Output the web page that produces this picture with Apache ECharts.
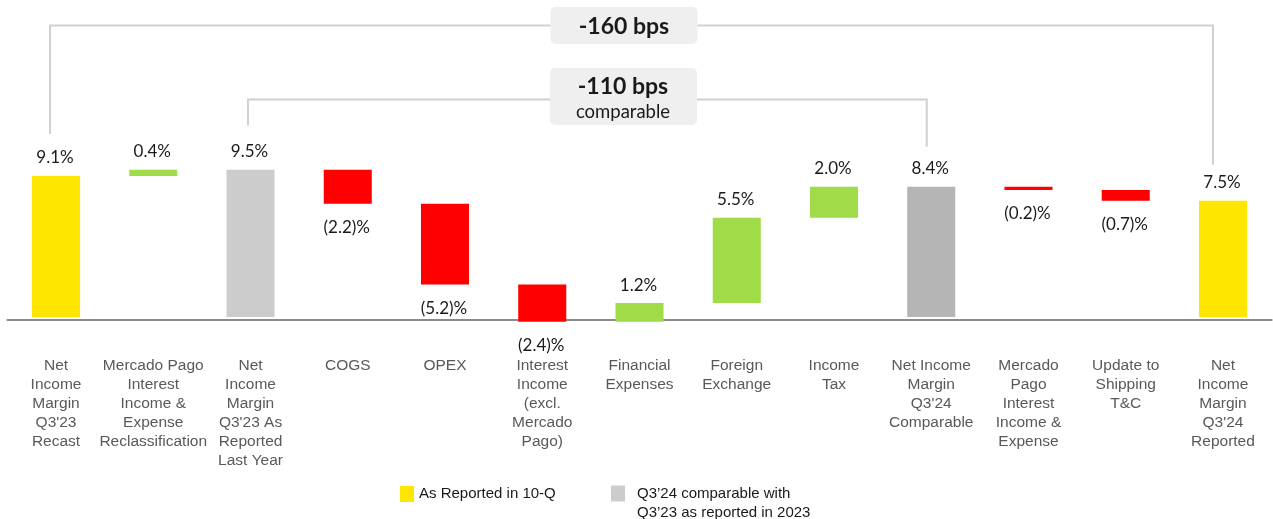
<!DOCTYPE html>
<html><head><meta charset="utf-8">
<script src="https://cdn.jsdelivr.net/npm/echarts@6/dist/echarts.min.js"></script>
<style>html,body{margin:0;padding:0;background:#fff}#c{width:1273px;height:519px}</style>
</head><body><div id="c"></div>
<script>
const categories = [
  "Net\nIncome\nMargin\nQ3'23\nRecast",
  "Mercado Pago\nInterest\nIncome &\nExpense\nReclassification",
  "Net\nIncome\nMargin\nQ3'23 As\nReported\nLast Year",
  "COGS",
  "OPEX",
  "Interest\nIncome\n(excl.\nMercado\nPago)",
  "Financial\nExpenses",
  "Foreign\nExchange",
  "Income\nTax",
  "Net Income\nMargin\nQ3'24\nComparable",
  "Mercado\nPago\nInterest\nIncome &\nExpense",
  "Update to\nShipping\nT&C",
  "Net\nIncome\nMargin\nQ3'24\nReported"
];
const values = [9.1, 0.4, 9.5, -2.2, -5.2, -2.4, 1.2, 5.5, 2.0, 8.4, -0.2, -0.7, 7.5];
const barKinds = ['reported','change','comparableLY','change','change','change','change','change','change','comparable','change','change','reported'];
const valueLabels = ["9.1%","0.4%","9.5%","(2.2)%","(5.2)%","(2.4)%","1.2%","5.5%","2.0%","8.4%","(0.2)%","(0.7)%","7.5%"];
const bracketLabels = ["-160 bps", "-110 bps", "comparable"];
const legendNames = ["As Reported in 10-Q", "Q3\u201924 comparable with\nQ3\u201923 as reported in 2023"];

const COLORS = { reported:'#FFE600', comparableLY:'#CCCCCC', comparable:'#B5B5B5', up:'#A0DC48', down:'#FF0000' };

// build waterfall ranges
const wf = [];
let running = 0;
values.forEach((v, i) => {
  if (barKinds[i] === 'change') {
    wf.push([i, running, running + v]);
    running += v;
  } else {
    wf.push([i, 0, v]);
    running = v;
  }
});

function colorOf(i) {
  const k = barKinds[i];
  if (k === 'change') return values[i] >= 0 ? COLORS.up : COLORS.down;
  return COLORS[k];
}

const chart = echarts.init(document.getElementById('c'), null, {renderer:'canvas'});
const option = {
  animation: false,
  backgroundColor: '#fff',
  grid: { left: 7.4, right: 1.4, top: 162, bottom: 199.5, containLabel: false },
  xAxis: {
    type: 'category',
    data: categories,
    position: 'bottom',
    axisLine: { onZero: false, lineStyle: { color: '#8a8a8a', width: 2 } },
    axisTick: { show: false },
    axisLabel: {
      interval: 0, margin: 37, color: '#595959',
      fontFamily: 'Liberation Sans', fontSize: 15.5, lineHeight: 19,
      verticalAlign: 'top'
    },
    z: 1
  },
  yAxis: { type: 'value', min: -0.161, max: 10, show: false, splitLine: { show: false } },
  legend: [
    { data: [legendNames[0]], left: 400, top: 486, icon: 'rect', itemWidth: 14, itemHeight: 16,
      selectedMode: false, padding: 0,
      textStyle: { fontFamily: 'Liberation Sans', fontSize: 15, color: '#1a1a1a' } },
    { data: [legendNames[1]], left: 611, top: 465, icon: 'rect', itemWidth: 14, itemHeight: 16,
      selectedMode: false, padding: 0,
      formatter: function (n) { return '\n' + n; },
      textStyle: { fontFamily: 'Liberation Sans', fontSize: 15, color: '#1a1a1a', lineHeight: 19, padding: [0, 0, 0, 7] } }
  ],
  series: [
    {
      type: 'custom',
      name: 'waterfall',
      data: wf,
      z: 3,
      renderItem: function (params, api) {
        const i = api.value(0), a = api.value(1), b = api.value(2);
        const top = api.coord([i, Math.max(a, b)]);
        const bot = api.coord([i, Math.min(a, b)]);
        const w = api.size([1, 0])[0] * 0.494;
        const neg = values[i] < 0;
        return {
          type: 'group',
          children: [
            { type: 'rect', shape: { x: top[0] - w / 2, y: top[1], width: w, height: Math.max(bot[1] - top[1], 1) },
              style: { fill: colorOf(i) } },
            { type: 'text', x: top[0] - 1, y: neg ? bot[1] + 24 : top[1] - 18,
              style: { text: valueLabels[i], align: 'center', verticalAlign: 'middle',
                       font: '17px Lato', fill: '#1a1a1a' } }
          ]
        };
      }
    },
    { type: 'bar', name: legendNames[0], data: [], itemStyle: { color: COLORS.reported } },
    { type: 'bar', name: legendNames[1], data: [], itemStyle: { color: COLORS.comparableLY } }
  ]
};
chart.setOption(option);

// brackets positioned from the chart's own scales
function px(i, v) { return chart.convertToPixel({ xAxisIndex: 0, yAxisIndex: 0 }, [i, v]); }
const b1L = px(0, values[0]), b1R = px(12, values[12]);
const b2L = px(2, values[2]), b2R = px(9, values[9]);
const lineStyle = { stroke: '#D0D0D0', lineWidth: 2, fill: null };
const y1 = 25.5, y2 = 99.5, boxCx = 624;
chart.setOption({
  graphic: [
    { type: 'polyline', z: 10, shape: { points: [[b1L[0] - 6, b1L[1] - 42], [b1L[0] - 6, y1], [b1R[0] - 10, y1], [b1R[0] - 10, b1R[1] - 36]] }, style: lineStyle },
    { type: 'polyline', z: 10, shape: { points: [[b2L[0] - 2.5, b2L[1] - 44], [b2L[0] - 2.5, y2], [b2R[0] - 4.5, y2], [b2R[0] - 4.5, b2R[1] - 40]] }, style: lineStyle },
    { type: 'rect', z: 11, shape: { x: boxCx - 73.5, y: 7, width: 147, height: 37, r: 5 }, style: { fill: '#EFEFEF' } },
    { type: 'text', z: 12, x: boxCx, y: 26.5, style: { text: bracketLabels[0], align: 'center', verticalAlign: 'middle', font: 'bold 23px Lato', fill: '#1a1a1a' } },
    { type: 'rect', z: 11, shape: { x: boxCx - 74, y: 68, width: 147, height: 57, r: 5 }, style: { fill: '#EFEFEF' } },
    { type: 'text', z: 12, x: boxCx - 1, y: 86.5, style: { text: bracketLabels[1], align: 'center', verticalAlign: 'middle', font: 'bold 23px Lato', fill: '#1a1a1a' } },
    { type: 'text', z: 12, x: boxCx - 1, y: 112, style: { text: bracketLabels[2], align: 'center', verticalAlign: 'middle', font: '18.5px Lato', fill: '#1a1a1a' } }
  ]
});
</script>
</body></html>
